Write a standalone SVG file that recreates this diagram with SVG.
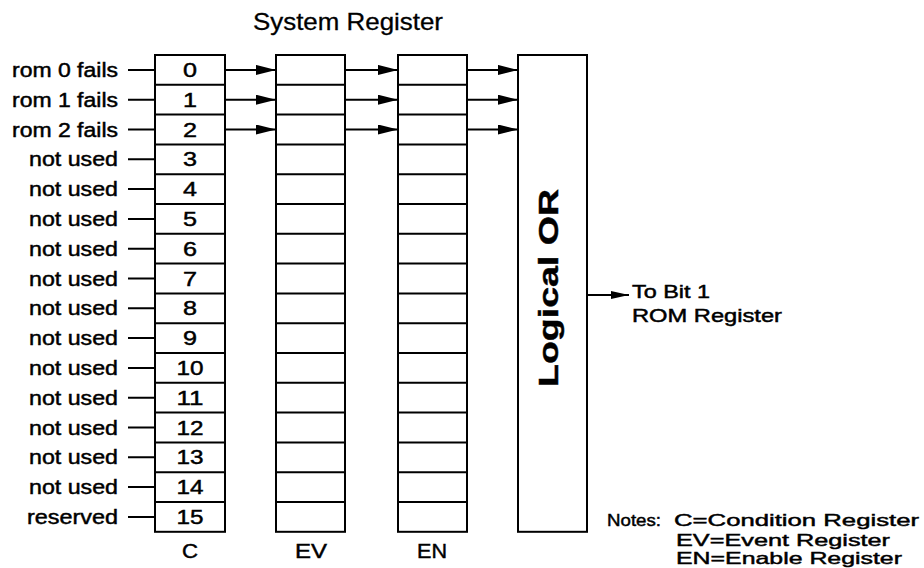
<svg xmlns="http://www.w3.org/2000/svg" width="924" height="568" viewBox="0 0 924 568">
<style>
text{font-family:"Liberation Sans",Arial,sans-serif;fill:#000;stroke:#000;stroke-width:0.45}
.lb{font-size:19.5px;text-anchor:end}
.dg{font-size:20px;text-anchor:middle}
.ti{font-size:24px;text-anchor:middle;stroke-width:0.3}
.cl{font-size:20px;text-anchor:middle}
.nt{font-size:17.5px}
.nn{font-size:17px}
.box{fill:#fff;stroke:#000;stroke-width:2}
.dv{stroke:#000;stroke-width:2}
.ln{stroke:#000;stroke-width:2;fill:none}
</style>
<defs>
<marker id="ah" markerWidth="20" markerHeight="10" refX="20" refY="5" orient="auto" markerUnits="userSpaceOnUse">
<path d="M0,0 L20,5 L0,10 Z" fill="#000"/>
</marker>
<marker id="ah2" markerWidth="18" markerHeight="8" refX="18" refY="4" orient="auto" markerUnits="userSpaceOnUse">
<path d="M0,0 L18,4 L0,8 Z" fill="#000"/>
</marker>
<g id="dividers">
<path d="M0,84.8H70M0,114.6H70M0,144.4H70M0,174.2H70M0,204H70M0,233.8H70M0,263.6H70M0,293.4H70M0,323.2H70M0,353H70M0,382.8H70M0,412.6H70M0,442.4H70M0,472.2H70M0,502H70" class="dv"/>
</g>
</defs>

<text id="title" class="ti" x="348" y="30" textLength="190" lengthAdjust="spacingAndGlyphs">System Register</text>

<g id="reg-C">
<rect class="box" x="155" y="55" width="70" height="476.8"/>
<use href="#dividers" x="155"/>
<text class="dg" x="190" y="77" textLength="14" lengthAdjust="spacingAndGlyphs">0</text>
<text class="dg" x="190" y="106.8" textLength="14" lengthAdjust="spacingAndGlyphs">1</text>
<text class="dg" x="190" y="136.6" textLength="14" lengthAdjust="spacingAndGlyphs">2</text>
<text class="dg" x="190" y="166.4" textLength="14" lengthAdjust="spacingAndGlyphs">3</text>
<text class="dg" x="190" y="196.2" textLength="14" lengthAdjust="spacingAndGlyphs">4</text>
<text class="dg" x="190" y="226" textLength="14" lengthAdjust="spacingAndGlyphs">5</text>
<text class="dg" x="190" y="255.8" textLength="14" lengthAdjust="spacingAndGlyphs">6</text>
<text class="dg" x="190" y="285.6" textLength="14" lengthAdjust="spacingAndGlyphs">7</text>
<text class="dg" x="190" y="315.4" textLength="14" lengthAdjust="spacingAndGlyphs">8</text>
<text class="dg" x="190" y="345.2" textLength="14" lengthAdjust="spacingAndGlyphs">9</text>
<text class="dg" x="190" y="375" textLength="27" lengthAdjust="spacingAndGlyphs">10</text>
<text class="dg" x="190" y="404.8" textLength="27" lengthAdjust="spacingAndGlyphs">11</text>
<text class="dg" x="190" y="434.6" textLength="27" lengthAdjust="spacingAndGlyphs">12</text>
<text class="dg" x="190" y="464.4" textLength="27" lengthAdjust="spacingAndGlyphs">13</text>
<text class="dg" x="190" y="494.2" textLength="27" lengthAdjust="spacingAndGlyphs">14</text>
<text class="dg" x="190" y="524" textLength="27" lengthAdjust="spacingAndGlyphs">15</text>
<text class="cl" x="190" y="558" textLength="16" lengthAdjust="spacingAndGlyphs">C</text>
</g>

<g id="reg-EV">
<rect class="box" x="276" y="55" width="69" height="476.8"/>
<use href="#dividers" x="276"/>
<text class="cl" x="311" y="558" textLength="32" lengthAdjust="spacingAndGlyphs">EV</text>
</g>

<g id="reg-EN">
<rect class="box" x="398" y="55" width="69" height="476.8"/>
<use href="#dividers" x="398"/>
<text class="cl" x="432" y="558" textLength="30" lengthAdjust="spacingAndGlyphs">EN</text>
</g>

<g id="logical-or">
<rect class="box" x="518" y="55" width="69" height="476.8"/>
<text x="0" y="0" font-size="27" font-weight="bold" text-anchor="middle" transform="translate(558,288) rotate(-90)" textLength="198" lengthAdjust="spacingAndGlyphs">Logical OR</text>
</g>

<g id="inputs">
<text class="lb" x="118" y="77" textLength="106" lengthAdjust="spacingAndGlyphs">rom 0 fails</text>
<text class="lb" x="118" y="106.8" textLength="106" lengthAdjust="spacingAndGlyphs">rom 1 fails</text>
<text class="lb" x="118" y="136.6" textLength="106" lengthAdjust="spacingAndGlyphs">rom 2 fails</text>
<text class="lb" x="118" y="166.4" textLength="89" lengthAdjust="spacingAndGlyphs">not used</text>
<text class="lb" x="118" y="196.2" textLength="89" lengthAdjust="spacingAndGlyphs">not used</text>
<text class="lb" x="118" y="226" textLength="89" lengthAdjust="spacingAndGlyphs">not used</text>
<text class="lb" x="118" y="255.8" textLength="89" lengthAdjust="spacingAndGlyphs">not used</text>
<text class="lb" x="118" y="285.6" textLength="89" lengthAdjust="spacingAndGlyphs">not used</text>
<text class="lb" x="118" y="315.4" textLength="89" lengthAdjust="spacingAndGlyphs">not used</text>
<text class="lb" x="118" y="345.2" textLength="89" lengthAdjust="spacingAndGlyphs">not used</text>
<text class="lb" x="118" y="375" textLength="89" lengthAdjust="spacingAndGlyphs">not used</text>
<text class="lb" x="118" y="404.8" textLength="89" lengthAdjust="spacingAndGlyphs">not used</text>
<text class="lb" x="118" y="434.6" textLength="89" lengthAdjust="spacingAndGlyphs">not used</text>
<text class="lb" x="118" y="464.4" textLength="89" lengthAdjust="spacingAndGlyphs">not used</text>
<text class="lb" x="118" y="494.2" textLength="89" lengthAdjust="spacingAndGlyphs">not used</text>
<text class="lb" x="118" y="524" textLength="91" lengthAdjust="spacingAndGlyphs">reserved</text>
</g>

<g id="connectors">
<path class="ln" d="M128,69.9H155M128,99.7H155M128,129.5H155M128,159.3H155M128,189.1H155M128,218.9H155M128,248.7H155M128,278.5H155M128,308.3H155M128,338.1H155M128,367.9H155M128,397.7H155M128,427.5H155M128,457.3H155M128,487.1H155M128,516.9H155"/>
<line class="ln" x1="225" y1="69.9" x2="276" y2="69.9" marker-end="url(#ah)"/>
<line class="ln" x1="225" y1="99.7" x2="276" y2="99.7" marker-end="url(#ah)"/>
<line class="ln" x1="225" y1="129.5" x2="276" y2="129.5" marker-end="url(#ah)"/>
<line class="ln" x1="345" y1="69.9" x2="398" y2="69.9" marker-end="url(#ah)"/>
<line class="ln" x1="345" y1="99.7" x2="398" y2="99.7" marker-end="url(#ah)"/>
<line class="ln" x1="345" y1="129.5" x2="398" y2="129.5" marker-end="url(#ah)"/>
<line class="ln" x1="467" y1="69.9" x2="518" y2="69.9" marker-end="url(#ah)"/>
<line class="ln" x1="467" y1="99.7" x2="518" y2="99.7" marker-end="url(#ah)"/>
<line class="ln" x1="467" y1="129.5" x2="518" y2="129.5" marker-end="url(#ah)"/>
<line class="ln" x1="587" y1="295" x2="629" y2="295" marker-end="url(#ah2)"/>
</g>

<g id="output-label">
<text class="nt" x="632" y="298" textLength="78" lengthAdjust="spacingAndGlyphs">To Bit 1</text>
<text class="nt" x="632" y="322" textLength="150" lengthAdjust="spacingAndGlyphs">ROM Register</text>
</g>

<g id="notes">
<text class="nn" x="607" y="526" textLength="54" lengthAdjust="spacingAndGlyphs">Notes:</text>
<text class="nn" x="674" y="526" textLength="245" lengthAdjust="spacingAndGlyphs">C=Condition Register</text>
<text class="nn" x="676" y="545.5" textLength="214" lengthAdjust="spacingAndGlyphs">EV=Event Register</text>
<text class="nn" x="676" y="564" textLength="226" lengthAdjust="spacingAndGlyphs">EN=Enable Register</text>
</g>
</svg>
